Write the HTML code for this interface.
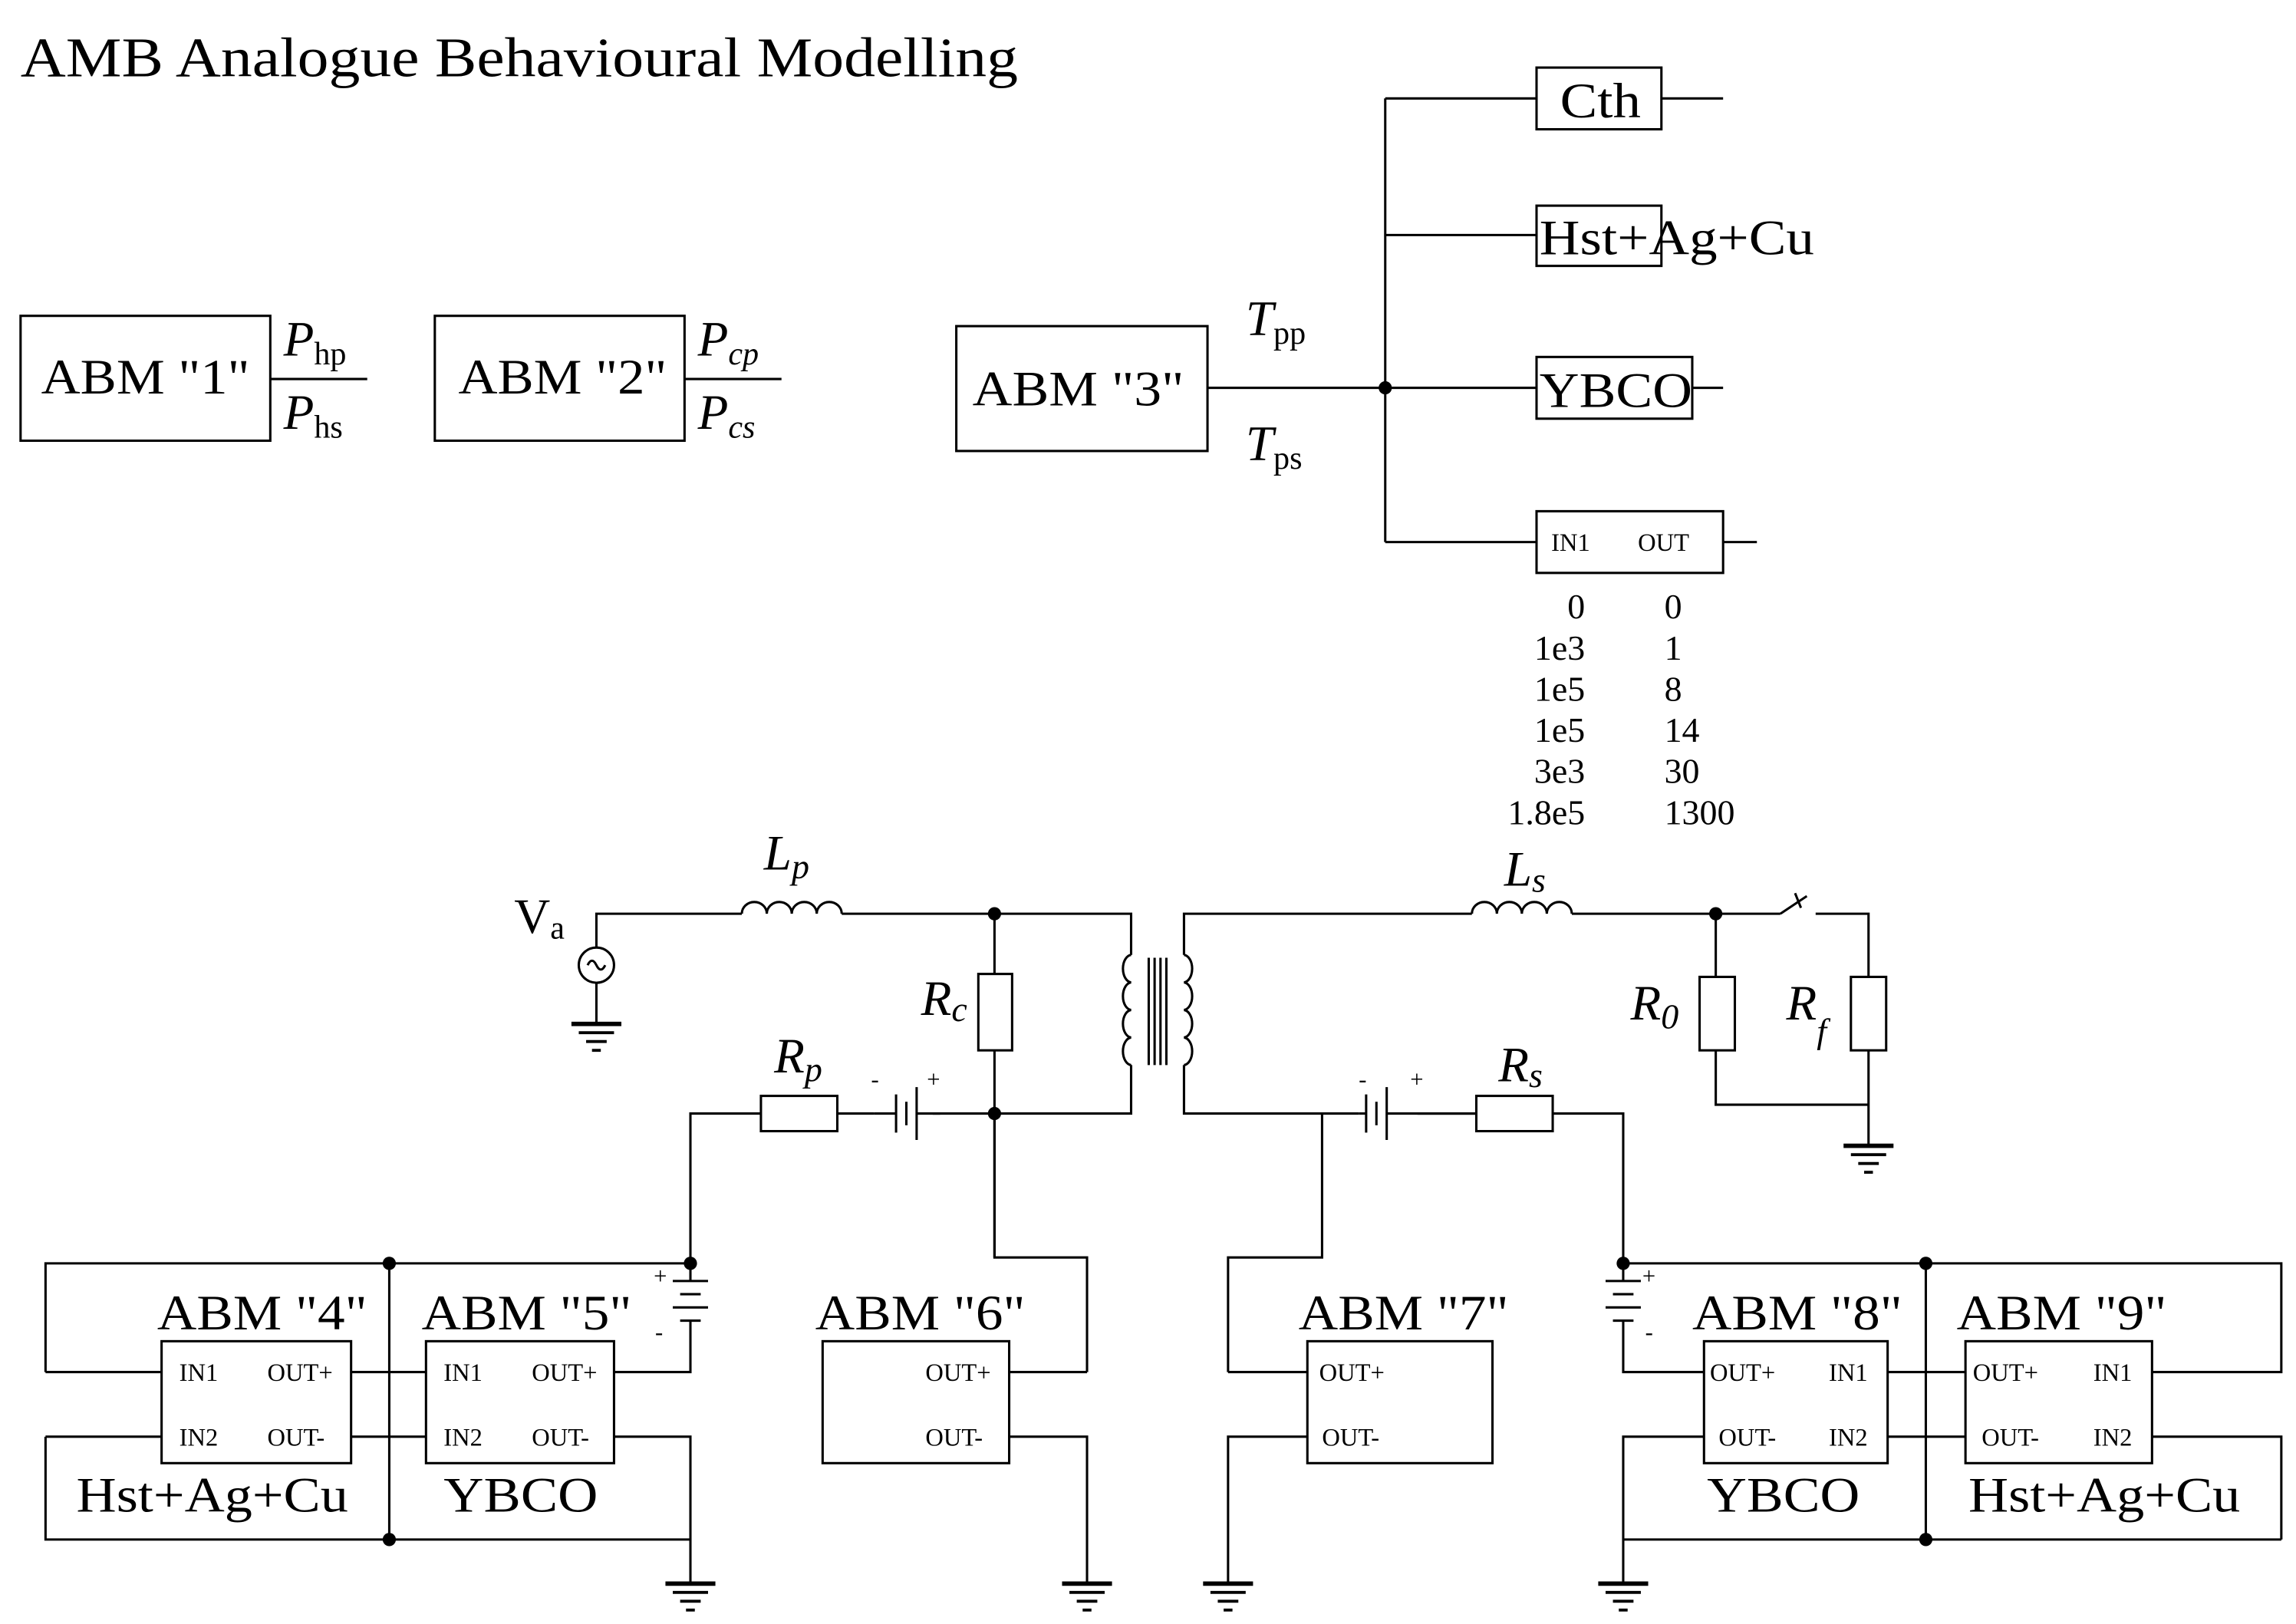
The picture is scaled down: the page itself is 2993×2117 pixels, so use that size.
<!DOCTYPE html>
<html><head><meta charset="utf-8"><style>
html,body{margin:0;padding:0;background:#fff}
svg{display:block}
text{font-family:"Liberation Serif",serif;fill:#000}
</style></head><body>
<svg width="2993" height="2117" viewBox="0 0 1563 1105.5" preserveAspectRatio="none" xmlns="http://www.w3.org/2000/svg">
<defs>
<g id="gnd" stroke="#000" stroke-width="2"><line x1="-17" y1="0" x2="17" y2="0" stroke-width="3"/><line x1="-12" y1="6" x2="12" y2="6"/><line x1="-7" y1="12" x2="7" y2="12"/><line x1="-3" y1="18" x2="3" y2="18"/></g>
</defs>
<text x="14" y="52" font-size="38" textLength="679" lengthAdjust="spacingAndGlyphs">AMB Analogue Behavioural Modelling</text>
<g fill="none" stroke="#000" stroke-width="1.6">
<rect x="14" y="215" width="170" height="85"/>
<line x1="184" y1="258" x2="250" y2="258"/>
<rect x="296" y="215" width="170" height="85"/>
<line x1="466" y1="258" x2="532" y2="258"/>
<rect x="651" y="222" width="171" height="85"/>
<line x1="822" y1="264" x2="1046" y2="264"/>
<line x1="943" y1="67" x2="943" y2="369"/>
<line x1="943" y1="67" x2="1046" y2="67"/><rect x="1046" y="46" width="85" height="42"/><line x1="1131" y1="67" x2="1173" y2="67"/>
<line x1="943" y1="160" x2="1046" y2="160"/><rect x="1046" y="140" width="85" height="41"/>
<rect x="1046" y="243" width="106" height="42"/><line x1="1152" y1="264" x2="1173" y2="264"/>
<line x1="943" y1="369" x2="1046" y2="369"/><rect x="1046" y="348" width="127" height="42"/><line x1="1173" y1="369" x2="1196" y2="369"/>
<polyline points="406,645 406,622 505,622"/>
<circle cx="406" cy="657" r="12"/>
<path d="M400,657 q3,-6 6,0 t6,0"/>
<line x1="406" y1="669" x2="406" y2="697"/>
<path d="M505,622 a8.5,8 0 0 1 17,0 a8.5,8 0 0 1 17,0 a8.5,8 0 0 1 17,0 a8.5,8 0 0 1 17,0"/>
<polyline points="573,622 770,622 770,650"/>
<path d="M770,650 a6,9.4 0 0 0 0,18.75 a6,9.4 0 0 0 0,18.75 a6,9.4 0 0 0 0,18.75 a6,9.4 0 0 0 0,18.75"/>
<polyline points="770,725 770,758 470,758 470,860"/>
<line x1="677" y1="622" x2="677" y2="856"/>
<rect x="666" y="663" width="23" height="52" fill="#fff"/>
<rect x="518" y="746" width="52" height="24" fill="#fff"/>
<line x1="782" y1="652" x2="782" y2="725"/><line x1="786" y1="652" x2="786" y2="725"/><line x1="790" y1="652" x2="790" y2="725"/><line x1="794" y1="652" x2="794" y2="725"/>
<polyline points="806,650 806,622 1002,622"/>
<path d="M806,650 a6,9.4 0 0 1 0,18.75 a6,9.4 0 0 1 0,18.75 a6,9.4 0 0 1 0,18.75 a6,9.4 0 0 1 0,18.75"/>
<path d="M1002,622 a8.5,8 0 0 1 17,0 a8.5,8 0 0 1 17,0 a8.5,8 0 0 1 17,0 a8.5,8 0 0 1 17,0"/>
<polyline points="1070,622 1212,622"/>
<line x1="1212" y1="622" x2="1230" y2="610"/><line x1="1222" y1="608" x2="1226" y2="618"/>
<polyline points="1236,622 1272,622 1272,780"/>
<rect x="1260" y="665" width="24" height="50" fill="#fff"/>
<polyline points="1168,622 1168,752 1272,752"/>
<rect x="1157" y="665" width="24" height="50" fill="#fff"/>
<polyline points="806,725 806,758 1105,758 1105,860"/>
<rect x="1005" y="746" width="52" height="24" fill="#fff"/>
<polyline points="677,758 677,856 740,856 740,934"/>
<polyline points="900,758 900,856 836,856 836,934"/>
<rect x="595" y="745" width="40" height="26" fill="#fff" stroke="none"/>
<line x1="595" y1="758" x2="610" y2="758"/><line x1="610" y1="745" x2="610" y2="771"/><line x1="617" y1="750" x2="617" y2="766"/><line x1="624" y1="740" x2="624" y2="776"/><line x1="624" y1="758" x2="640" y2="758"/>
<rect x="925" y="745" width="40" height="26" fill="#fff" stroke="none"/>
<line x1="925" y1="758" x2="930" y2="758"/><line x1="930" y1="745" x2="930" y2="771"/><line x1="937" y1="750" x2="937" y2="766"/><line x1="944" y1="740" x2="944" y2="776"/><line x1="944" y1="758" x2="1005" y2="758"/>
<polyline points="31,934 31,860 470,860"/>
<line x1="31" y1="934" x2="110" y2="934"/>
<line x1="239" y1="934" x2="290" y2="934"/>
<line x1="265" y1="860" x2="265" y2="1048"/>
<polyline points="31,978 31,1048 470,1048"/>
<line x1="31" y1="978" x2="110" y2="978"/>
<line x1="239" y1="978" x2="290" y2="978"/>
<rect x="110" y="913" width="129" height="83"/>
<rect x="290" y="913" width="128" height="83"/>
<line x1="470" y1="860" x2="470" y2="872"/>
<line x1="458" y1="872" x2="482" y2="872"/><line x1="463" y1="881" x2="477" y2="881"/><line x1="458" y1="890" x2="482" y2="890"/><line x1="463" y1="899" x2="477" y2="899"/>
<polyline points="470,899 470,934 418,934"/>
<polyline points="418,978 470,978 470,1078"/>
<rect x="560" y="913" width="127" height="83"/>
<line x1="687" y1="934" x2="740" y2="934"/>
<polyline points="687,978 740,978 740,1078"/>
<rect x="890" y="913" width="126" height="83"/>
<line x1="836" y1="934" x2="890" y2="934"/>
<polyline points="890,978 836,978 836,1078"/>
<polyline points="1105,860 1553,860 1553,934 1465,934"/>
<line x1="1105" y1="860" x2="1105" y2="872"/>
<line x1="1093" y1="872" x2="1117" y2="872"/><line x1="1098" y1="881" x2="1112" y2="881"/><line x1="1093" y1="890" x2="1117" y2="890"/><line x1="1098" y1="899" x2="1112" y2="899"/>
<polyline points="1105,899 1105,934 1160,934"/>
<polyline points="1160,978 1105,978 1105,1078"/>
<line x1="1105" y1="1048" x2="1553" y2="1048"/>
<polyline points="1465,978 1553,978 1553,1048"/>
<line x1="1311" y1="860" x2="1311" y2="1048"/>
<line x1="1285" y1="934" x2="1338" y2="934"/>
<line x1="1285" y1="978" x2="1338" y2="978"/>
<rect x="1160" y="913" width="125" height="83"/>
<rect x="1338" y="913" width="127" height="83"/>
</g>
<g fill="#000">
<circle cx="943" cy="264" r="4.5"/>
<circle cx="677" cy="622" r="4.5"/><circle cx="677" cy="758" r="4.5"/><circle cx="1168" cy="622" r="4.5"/>
<circle cx="265" cy="860" r="4.5"/><circle cx="470" cy="860" r="4.5"/><circle cx="265" cy="1048" r="4.5"/>
<circle cx="1105" cy="860" r="4.5"/><circle cx="1311" cy="860" r="4.5"/><circle cx="1311" cy="1048" r="4.5"/>
</g>
<use href="#gnd" x="406" y="697"/><use href="#gnd" x="1272" y="780"/>
<use href="#gnd" x="470" y="1078"/><use href="#gnd" x="740" y="1078"/><use href="#gnd" x="836" y="1078"/><use href="#gnd" x="1105" y="1078"/>
<g font-size="34" lengthAdjust="spacingAndGlyphs">
<text x="28" y="268" textLength="142" lengthAdjust="spacingAndGlyphs">ABM "1"</text>
<text x="312" y="268" textLength="142" lengthAdjust="spacingAndGlyphs">ABM "2"</text>
<text x="662" y="276" textLength="144" lengthAdjust="spacingAndGlyphs">ABM "3"</text>
<text x="107" y="905" textLength="143" lengthAdjust="spacingAndGlyphs">ABM "4"</text>
<text x="287" y="905" textLength="143" lengthAdjust="spacingAndGlyphs">ABM "5"</text>
<text x="555" y="905" textLength="143" lengthAdjust="spacingAndGlyphs">ABM "6"</text>
<text x="884" y="905" textLength="143" lengthAdjust="spacingAndGlyphs">ABM "7"</text>
<text x="1152" y="905" textLength="143" lengthAdjust="spacingAndGlyphs">ABM "8"</text>
<text x="1332" y="905" textLength="143" lengthAdjust="spacingAndGlyphs">ABM "9"</text>
<text x="52" y="1029" textLength="185" lengthAdjust="spacingAndGlyphs">Hst+Ag+Cu</text>
<text x="302" y="1029" textLength="105" lengthAdjust="spacingAndGlyphs">YBCO</text>
<text x="1162" y="1029" textLength="104" lengthAdjust="spacingAndGlyphs">YBCO</text>
<text x="1340" y="1029" textLength="185" lengthAdjust="spacingAndGlyphs">Hst+Ag+Cu</text>
</g>
<text x="193" y="242" font-size="34" font-style="italic">P<tspan font-style="normal" font-size="22" dy="6">hp</tspan></text>
<text x="193" y="292" font-size="34" font-style="italic">P<tspan font-style="normal" font-size="22" dy="6">hs</tspan></text>
<text x="475" y="242" font-size="34" font-style="italic">P<tspan font-size="22" dy="6">cp</tspan></text>
<text x="475" y="292" font-size="34" font-style="italic">P<tspan font-size="22" dy="6">cs</tspan></text>
<text x="848" y="228" font-size="34" font-style="italic">T<tspan font-style="normal" font-size="22" dy="6">pp</tspan></text>
<text x="848" y="313" font-size="34" font-style="italic">T<tspan font-style="normal" font-size="22" dy="6">ps</tspan></text>
<text x="1062" y="80" font-size="34" textLength="55" lengthAdjust="spacingAndGlyphs">Cth</text>
<text x="1048" y="173" font-size="34" textLength="187" lengthAdjust="spacingAndGlyphs">Hst+Ag+Cu</text>
<text x="1048" y="277" font-size="34" textLength="104" lengthAdjust="spacingAndGlyphs">YBCO</text>
<text x="1056" y="375" font-size="17">IN1</text><text x="1115" y="375" font-size="17">OUT</text>
<g font-size="24">
<g text-anchor="end"><text x="1079" y="421">0</text><text x="1079" y="449">1e3</text><text x="1079" y="477">1e5</text><text x="1079" y="505">1e5</text><text x="1079" y="533">3e3</text><text x="1079" y="561">1.8e5</text></g>
<text x="1133" y="421">0</text><text x="1133" y="449">1</text><text x="1133" y="477">8</text><text x="1133" y="505">14</text><text x="1133" y="533">30</text><text x="1133" y="561">1300</text>
</g>
<text x="350" y="635" font-size="34">V<tspan font-size="22" dy="4">a</tspan></text>
<text x="520" y="592" font-size="34" font-style="italic">L<tspan font-size="24" dy="6">p</tspan></text>
<text x="1024" y="603" font-size="34" font-style="italic">L<tspan font-size="24" dy="4">s</tspan></text>
<text x="627" y="691" font-size="34" font-style="italic">R<tspan font-size="24" dy="4">c</tspan></text>
<text x="527" y="730" font-size="34" font-style="italic">R<tspan font-size="24" dy="6">p</tspan></text>
<text x="1020" y="736" font-size="34" font-style="italic">R<tspan font-size="24" dy="4">s</tspan></text>
<text x="1110" y="694" font-size="34" font-style="italic">R<tspan font-size="24" dy="6">0</tspan></text>
<text x="1216" y="694" font-size="34" font-style="italic">R<tspan font-size="24" dy="16">f</tspan></text>
<g font-size="16">
<text x="593" y="740">-</text><text x="631" y="740">+</text>
<text x="925" y="740">-</text><text x="960" y="740">+</text>
<text x="445" y="874">+</text><text x="446" y="912">-</text>
<text x="1118" y="874">+</text><text x="1120" y="912">-</text>
</g>
<g font-size="17">
<text x="122" y="940">IN1</text><text x="182" y="940">OUT+</text><text x="122" y="984">IN2</text><text x="182" y="984">OUT-</text>
<text x="302" y="940">IN1</text><text x="362" y="940">OUT+</text><text x="302" y="984">IN2</text><text x="362" y="984">OUT-</text>
<text x="630" y="940">OUT+</text><text x="630" y="984">OUT-</text>
<text x="898" y="940">OUT+</text><text x="900" y="984">OUT-</text>
<text x="1164" y="940">OUT+</text><text x="1245" y="940">IN1</text><text x="1170" y="984">OUT-</text><text x="1245" y="984">IN2</text>
<text x="1343" y="940">OUT+</text><text x="1425" y="940">IN1</text><text x="1349" y="984">OUT-</text><text x="1425" y="984">IN2</text>
</g>
</svg>
</body></html>
